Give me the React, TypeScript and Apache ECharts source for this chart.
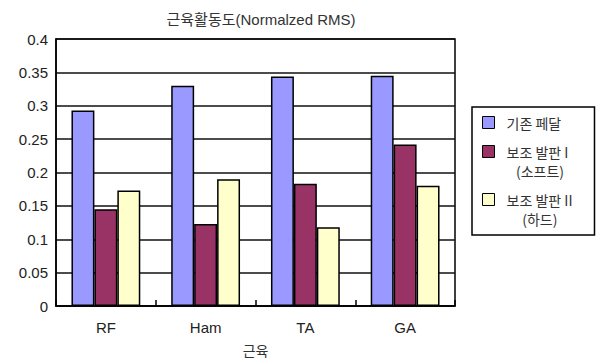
import React, { useEffect, useRef } from 'react';
import * as echarts from 'echarts';

const categories = ['RF', 'Ham', 'TA', 'GA'];
const seriesNames = ['기존 페달', '\n보조 발판 I\n   (소프트)', '\n보조 발판 II\n     (하드)'];
const baselinePedal = [0.293, 0.330, 0.344, 0.345];
const softPlate = [0.145, 0.123, 0.183, 0.242];
const hardPlate = [0.173, 0.190, 0.118, 0.180];
const seriesColors = ['#9999FF', '#993366', '#FFFFCC'];
const titleText = '근육활동도(Normalzed RMS)';
const xAxisName = '근육';

export default function App() {
  const ref = useRef<HTMLDivElement>(null);
  useEffect(() => {
    if (!ref.current) return;
    const chart = echarts.init(ref.current, null, { renderer: 'svg' });
    const font = 'Liberation Sans, Arial, "Noto Sans CJK KR", sans-serif';
    const cjk = '"Noto Sans CJK KR", sans-serif';
    const values = [baselinePedal, softPlate, hardPlate];
    chart.setOption({
      animation: false,
      backgroundColor: '#fff',
      title: {
        text: titleText,
        left: 256,
        top: 7,
        textAlign: 'center',
        textStyle: { fontSize: 15, fontWeight: 'normal', color: '#333', fontFamily: font },
      },
      legend: {
        orient: 'vertical',
        left: 472,
        top: 107,
        padding: [6, 22, 7, 10],
        itemGap: -9,
        itemWidth: 12,
        itemHeight: 12,
        borderColor: '#000',
        borderWidth: 1.5,
        icon: 'rect',
        itemStyle: { borderColor: '#000', borderWidth: 1 },
        textStyle: { fontSize: 14, color: '#333', lineHeight: 19, fontFamily: cjk, padding: [0, 0, 0, 7] },
      },
      grid: {
        left: 56,
        right: 144,
        top: 39,
        bottom: 57,
        show: true,
        borderColor: '#000',
        borderWidth: 1.5,
      },
      xAxis: {
        type: 'category',
        data: categories,
        name: xAxisName,
        nameLocation: 'middle',
        nameGap: 37,
        nameTextStyle: { fontSize: 14, color: '#333', fontFamily: cjk },
        axisLine: { lineStyle: { color: '#000', width: 1.5 } },
        axisTick: { show: true, inside: true, length: 6, lineStyle: { color: '#000', width: 1.5 } },
        axisLabel: { fontSize: 15, color: '#222', margin: 14, fontFamily: font },
      },
      yAxis: {
        type: 'value',
        min: 0,
        max: 0.4,
        interval: 0.05,
        axisLine: { show: true, lineStyle: { color: '#000', width: 1.5 } },
        axisTick: { show: false },
        axisLabel: { fontSize: 15, color: '#222', margin: 8, fontFamily: font },
        splitLine: { lineStyle: { color: '#111', width: 1.5 } },
      },
      series: seriesNames.map((name, i) => ({
        name,
        type: 'bar',
        data: values[i],
        barGap: '0%',
        barCategoryGap: '31%',
        itemStyle: { color: seriesColors[i], borderColor: '#000', borderWidth: 1.5 },
      })),
    });
    return () => chart.dispose();
  }, []);
  return <div ref={ref} style={{ position: 'fixed', left: 0, top: 0, width: 599, height: 363 }} />;
}
